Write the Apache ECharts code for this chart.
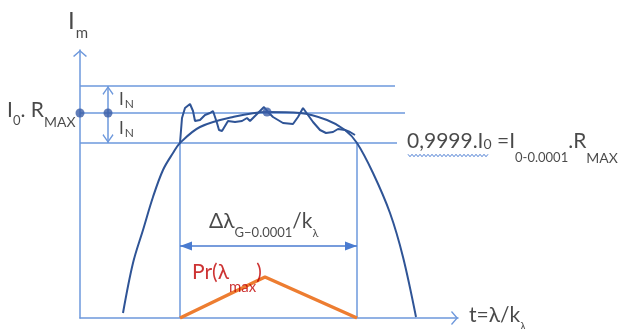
<!DOCTYPE html>
<html><head><meta charset="utf-8">
<script src="https://cdn.jsdelivr.net/npm/echarts@6/dist/echarts.min.js"></script>
<style>html,body{margin:0;padding:0;background:#fff}#c{width:619px;height:329px}</style>
</head><body><div id="c"></div>
<script>
// ---- data (t = λ/kλ units from origin, I = intensity units above the t-axis) ----
const curveT = [43,53,63,73,83,93,100,120,153,187,220,247,265,277,293,310,323,336];
const curveI = [5,55,88,121,148,165,175,191,201,206,205,198,188,175,145,105,61,1];
const measT = [100,102,105,110,113,115,120,125,130,133,137,139,142,145,148,155,162,167,170,175,180,184,188,193,198,203,213,218,223,228,233,240,246,253,258,265,270,275];
const measI = [175,200,210,214,207,197,198,203,205,207,195,188,187,192,197,196,197,200,197,202,207,211,206,201,198,195,194,201,210,203,196,188,185,186,189,188,186,183];
const prT = [100,185,277];
const prI = [0,41,0];
const levels = [232,205,175];          // I0.Rmax + IN, I0.Rmax, I0.Rmax - IN
const levelEnds = [315,325,317];
const bandT = [100,277];               // Δλ limits
const peakPoints = [[0,205],[28,205],[187,206]];
const inArrowT = 28;
const widthArrowI = 72;
const axisMaxT = 378, axisMaxI = 268;

const C_LIGHT = '#6D98DC', C_DARK = '#2F5496', C_ORANGE = '#ED7D31', C_RED = '#C00000', C_TXT = '#1b1b1b';
const FF = 'Lato';
const chevron = 'path://M10,10 L20,18.6 L18.4,20 L10,12.6 L1.6,20 L0,18.6 Z M10,0 L10.02,0 L10,0.02 Z';
const tri = 'path://M10,10 L20,20 L0,20 Z M10,0 L10.02,0 L10,0.02 Z';

function lineSeries(pts, color, width, smooth, z){
  return {type:'line', data:pts, symbol:'none', smooth:smooth||false, silent:true, z:z||2,
    lineStyle:{color:color, width:width}, animation:false};
}
const series = [];
levels.forEach((h,i)=>series.push(lineSeries([[0,h],[levelEnds[i],h]], C_LIGHT, 1.5, false, 1)));
bandT.forEach(t=>series.push(lineSeries([[t,0],[t,levels[2]]], C_LIGHT, 1.5, false, 1)));
series.push(lineSeries(curveT.map((t,i)=>[t,curveI[i]]), C_DARK, 2, 0.35, 3));
series.push(lineSeries(measT.map((t,i)=>[t,measI[i]]), C_DARK, 2, false, 3));
series.push(lineSeries(prT.map((t,i)=>[t,prI[i]]), C_ORANGE, 3.5, false, 4));
// arrows
series.push({type:'line', data:[], silent:true, animation:false,
  markLine:{silent:true, animation:false, label:{show:false},
    data:[
      [{coord:[inArrowT,levels[2]], symbol:chevron, symbolSize:[11,18]},{coord:[inArrowT,levels[0]], symbol:chevron, symbolSize:[11,18]}],
    ],
    lineStyle:{color:C_LIGHT, width:1.5, type:'solid'}}});
series.push({type:'line', data:[], silent:true, animation:false,
  markLine:{silent:true, animation:false, label:{show:false},
    data:[
      [{coord:[bandT[0],widthArrowI], symbol:tri, symbolSize:[9,24]},{coord:[bandT[1],widthArrowI], symbol:tri, symbolSize:[9,24]}],
    ],
    lineStyle:{color:'#4A7BD0', width:1.5, type:'solid'}}});
series.push({type:'scatter', data:peakPoints, symbolSize:9, itemStyle:{color:'#3A5DA6'}, z:5, silent:true, animation:false});

// annotations
const ann = [
  {v:[-12,296.5], f:'{m|I}{s|m}', rich:{m:{fontSize:24}, s:{fontSize:15, padding:[24,0,0,1]}}},
  {v:[-73,207.5], f:'{m|I}{s|0}{m|. R}{s2|MAX}', rich:{m:{fontSize:21}, s:{fontSize:13,padding:[21,0,0,0]}, s2:{fontSize:14,padding:[23,0,0,0]}}},
  {v:[39,218], f:'{m|I}{s|N}', rich:{m:{fontSize:17}, s:{fontSize:12,padding:[9,0,0,1]}}},
  {v:[39,189], f:'{m|I}{s|N}', rich:{m:{fontSize:17}, s:{fontSize:12,padding:[9,0,0,1]}}},
  {v:[327,176.5], f:'{m|0,9999.I}{s0|0}{m| =I}{s|0-0.0001}{m|.R}{s2|MAX}', rich:{m:{fontSize:21}, s0:{fontSize:14,padding:[5,0,0,0]}, s:{fontSize:13,padding:[32,0,0,0]}, s2:{fontSize:14,padding:[34,0,0,0]}}},
  {v:[129,97], f:'{m|Δλ}{s|G−0.0001}{m|/k}{s2|λ}', rich:{m:{fontSize:21}, s:{fontSize:13,padding:[24,0,0,0]}, s2:{fontSize:11,padding:[24,0,0,0]}}},
  {v:[112,46], f:'{m|Pr(λ}{s|max}{m|)}', color:C_RED, rich:{m:{fontSize:21}, s:{fontSize:15,padding:[31,0,0,0]}}},
  {v:[389,3], f:'{m|t=λ/k}{s|λ}', rich:{m:{fontSize:21}, s:{fontSize:11,padding:[22,0,0,0]}}},
];
series.push({type:'scatter', clip:false, silent:true, animation:false, symbolSize:0, z:6,
  data: ann.map(a=>{
    const col = a.color||C_TXT;
    const rich = {};
    Object.keys(a.rich).forEach(k=>{rich[k]=Object.assign({fontFamily:FF, color:col, verticalAlign:'middle'}, a.rich[k]);});
    return {value:a.v, label:{show:true, position:'right', distance:0, formatter:a.f, rich:rich, align:'left', verticalAlign:'middle'}};
  })});

const chart = echarts.init(document.getElementById('c'), null, {renderer:'canvas'});
chart.setOption({
  animation:false,
  backgroundColor:'#ffffff',
  grid:{left:80, top:50, right:161, bottom:11, containLabel:false},
  xAxis:{type:'value', min:0, max:axisMaxT, axisTick:{show:false}, axisLabel:{show:false}, splitLine:{show:false},
    axisLine:{show:true, onZero:false, lineStyle:{color:C_LIGHT, width:1.5}, symbol:['none',chevron], symbolSize:[14,24]}},
  yAxis:{type:'value', min:0, max:axisMaxI, axisTick:{show:false}, axisLabel:{show:false}, splitLine:{show:false},
    axisLine:{show:true, onZero:false, lineStyle:{color:C_LIGHT, width:1.5}, symbol:['none',chevron], symbolSize:[14,20]}},
  series:series
});
// spell-check squiggle under "0,9999.I0"
(function(){
  const p0 = chart.convertToPixel({gridIndex:0},[327,176.5]);
  const pts=[]; const x0=p0[0]+1, y0=p0[1]+14;
  for(let i=0;i<=40;i++){pts.push([x0+i*2, y0+(i%2?1.2:-1.2)]);}
  chart.setOption({graphic:[{type:'polyline', shape:{points:pts}, style:{stroke:'#4F7FD4', lineWidth:1, fill:null}, silent:true}]});
})();
</script></body></html>
